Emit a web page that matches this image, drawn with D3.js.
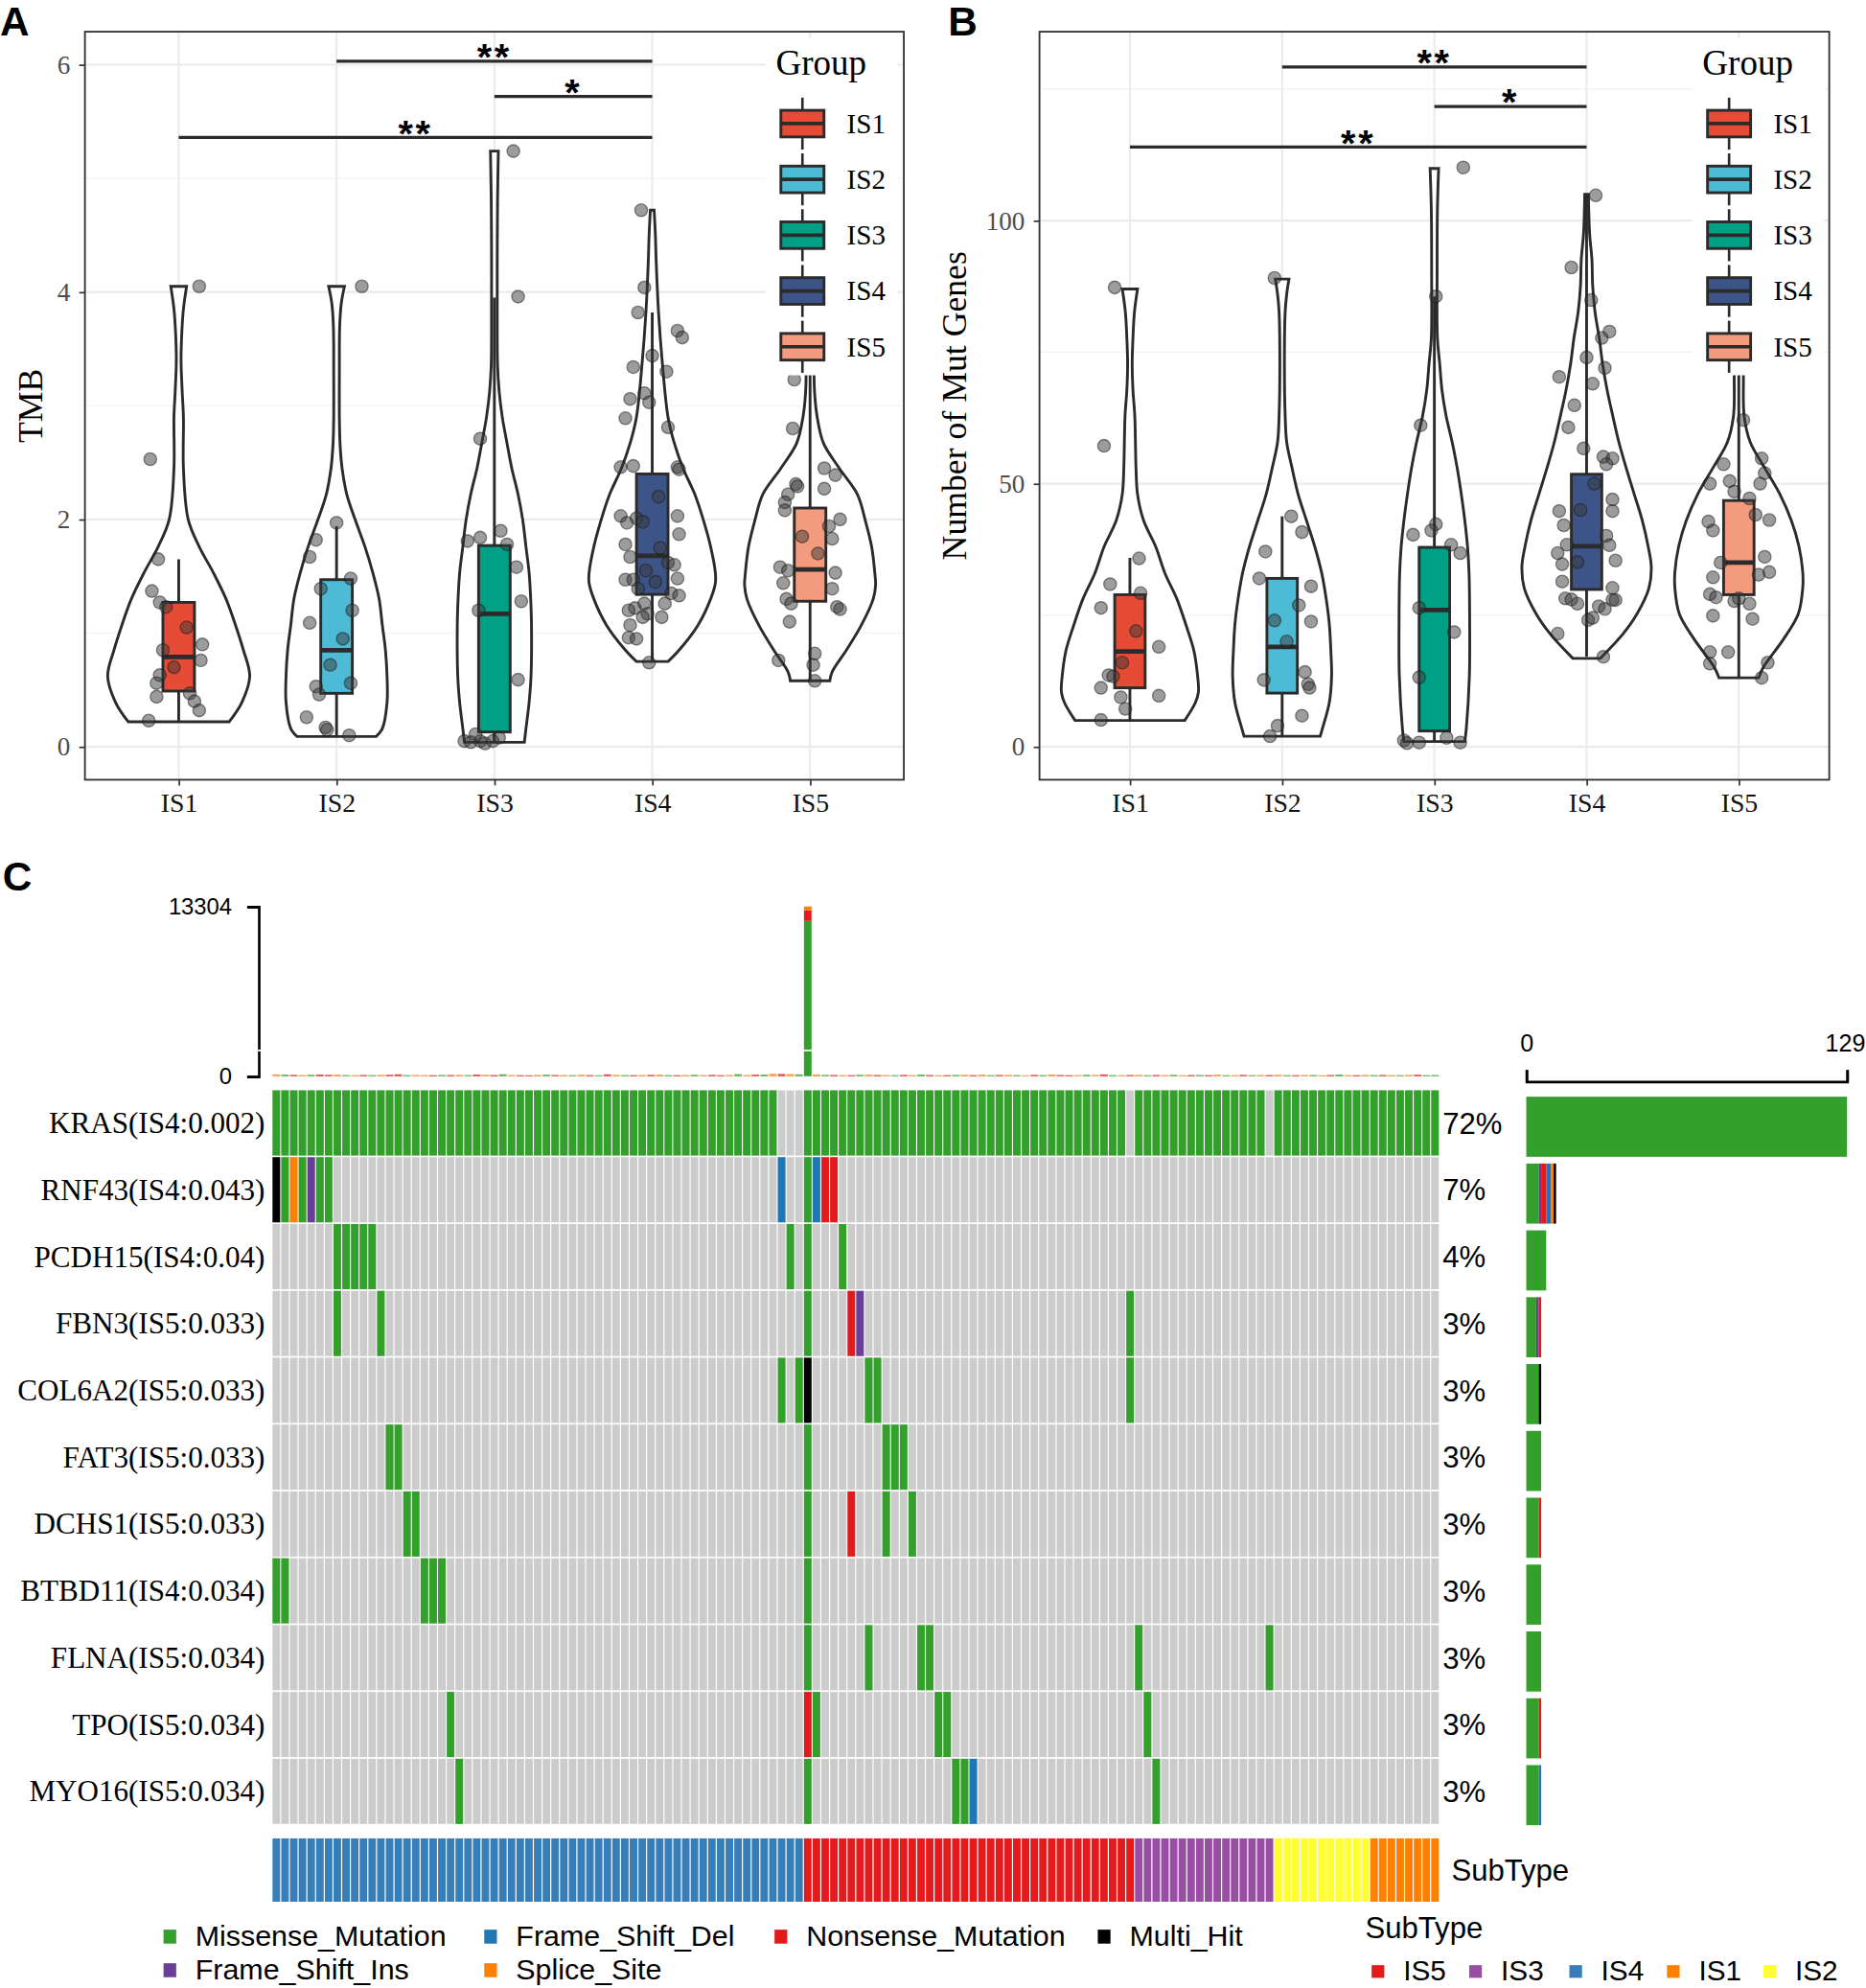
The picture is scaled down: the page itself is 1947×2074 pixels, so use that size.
<!DOCTYPE html>
<html>
<head>
<meta charset="utf-8">
<script src="https://cdn.jsdelivr.net/npm/d3@7"></script>
<style>
  html, body { margin: 0; padding: 0; background: #fff; }
  svg { display: block; }
</style>
</head>
<body>
<svg id="figure"></svg>
<script>
// ---------- panel A / B data ----------
const groups = ["IS1", "IS2", "IS3", "IS4", "IS5"];
const groupColors = ["#E64B35", "#4DBBD5", "#00A087", "#3C5488", "#F39B7F"];

// box stats: [lower whisker, q1, median, q3, upper whisker]
const tmbBoxes = [
  [0.22, 0.49, 0.79, 1.27, 1.65],
  [0.09, 0.47, 0.85, 1.47, 1.94],
  [0.04, 0.13, 1.17, 1.77, 3.95],
  [0.75, 1.34, 1.68, 2.40, 3.82],
  [0.58, 1.28, 1.56, 2.10, 3.30]
];
// violin outlines: [value, half width in category units]
const tmbViolins = [
  [[0.22,0.32],[0.39,0.40],[0.62,0.45],[0.85,0.41],[1.07,0.36],[1.30,0.30],[1.53,0.22],[1.76,0.13],[2.0,0.06],[2.45,0.03],[2.9,0.03],[3.13,0.022],[3.4,0.015],[3.65,0.02],[3.85,0.03],[4.05,0.05]],
  [[0.09,0.25],[0.16,0.29],[0.39,0.32],[0.62,0.32],[0.85,0.31],[1.07,0.29],[1.30,0.27],[1.53,0.23],[1.76,0.18],[1.99,0.12],[2.22,0.065],[2.45,0.035],[2.67,0.022],[2.9,0.018],[3.3,0.018],[3.7,0.02],[3.9,0.03],[4.05,0.05]],
  [[0.04,0.19],[0.16,0.20],[0.39,0.22],[0.62,0.232],[1.07,0.235],[1.30,0.23],[1.53,0.22],[1.76,0.20],[1.99,0.18],[2.22,0.15],[2.45,0.11],[2.67,0.08],[2.9,0.05],[3.13,0.03],[3.36,0.02],[3.8,0.018],[4.3,0.018],[4.8,0.02],[5.24,0.025]],
  [[0.75,0.10],[0.85,0.17],[1.07,0.29],[1.30,0.37],[1.44,0.40],[1.53,0.40],[1.76,0.37],[1.99,0.325],[2.22,0.27],[2.45,0.195],[2.67,0.14],[2.9,0.10],[3.36,0.065],[3.82,0.04],[4.27,0.025],[4.5,0.02],[4.72,0.012]],
  [[0.58,0.125],[0.66,0.14],[0.85,0.23],[1.07,0.325],[1.30,0.40],[1.42,0.415],[1.53,0.41],[1.76,0.39],[1.99,0.35],[2.22,0.30],[2.45,0.185],[2.67,0.085],[2.9,0.045],[3.13,0.028],[3.45,0.025]]
];
// jittered points: [offset in category units, value]
const tmbPoints = [
  [[0.13,4.05],[-0.18,2.53],[-0.13,1.65],[-0.17,1.37],[-0.12,1.27],[-0.08,1.23],[-0.10,0.85],[0.15,0.90],[0.14,0.76],[-0.12,0.63],[-0.14,0.56],[-0.14,0.44],[0.07,0.47],[0.10,0.40],[0.13,0.32],[-0.19,0.23],[0.05,1.05],[-0.03,0.70]],
  [[0.16,4.05],[0.0,1.97],[-0.13,1.82],[-0.17,1.67],[-0.10,1.39],[0.09,1.48],[0.10,1.20],[-0.17,1.09],[-0.13,0.53],[-0.11,0.46],[0.09,0.56],[-0.19,0.26],[-0.07,0.17],[-0.06,0.15],[0.08,0.10],[0.04,0.95],[-0.04,0.72]],
  [[0.12,5.24],[0.15,3.96],[-0.09,2.71],[-0.17,1.81],[-0.09,1.84],[0.04,1.90],[0.08,1.78],[0.14,1.58],[0.17,1.28],[-0.10,1.20],[0.15,0.59],[-0.19,0.05],[-0.09,0.05],[-0.06,0.03],[-0.01,0.05],[-0.12,0.11],[0.03,0.08],[-0.15,0.04]],
  [[-0.07,4.72],[-0.05,4.04],[-0.09,3.82],[0.16,3.66],[0.19,3.60],[0.0,3.44],[-0.12,3.34],[0.09,3.30],[-0.14,3.06],[-0.05,3.11],[-0.02,3.03],[-0.17,2.89],[0.10,2.81],[-0.20,2.46],[-0.12,2.47],[0.16,2.46],[0.17,2.44],[-0.20,2.03],[-0.10,2.01],[0.16,2.03],[-0.16,1.97],[0.17,1.87],[-0.17,1.78],[-0.14,1.67],[0.10,1.62],[0.14,1.60],[-0.17,1.47],[-0.12,1.47],[0.16,1.48],[-0.09,1.39],[0.12,1.35],[0.17,1.33],[-0.11,1.22],[-0.05,1.26],[0.08,1.26],[-0.15,1.20],[-0.03,1.17],[0.06,1.14],[-0.06,1.14],[-0.14,1.07],[-0.15,0.96],[-0.10,0.95],[-0.02,0.74],[-0.06,1.98],[0.05,1.75],[-0.04,1.55],[0.04,2.20],[0.02,1.45]],
  [[-0.10,3.23],[-0.11,2.80],[0.09,2.45],[0.16,2.39],[-0.09,2.31],[-0.08,2.29],[-0.14,2.22],[0.09,2.27],[-0.16,2.15],[-0.16,2.08],[0.19,2.00],[0.12,1.94],[0.14,1.83],[-0.19,1.58],[-0.14,1.55],[0.16,1.53],[-0.17,1.44],[0.14,1.39],[-0.15,1.30],[-0.12,1.26],[0.17,1.23],[0.19,1.21],[-0.13,1.10],[-0.20,0.76],[0.03,0.82],[0.02,0.72],[0.03,0.58],[0.05,1.70],[-0.05,1.85]]
];
const tmbSignif = [[2, 4, 6.03, "**"], [3, 4, 5.72, "*"], [1, 4, 5.36, "**"]];

const mutBoxes = [
  [5.0, 11.2, 18.1, 28.9, 35.9],
  [2.0, 10.2, 19.0, 32.0, 43.8],
  [1.0, 3.0, 26.0, 37.9, 85.6],
  [17.1, 29.9, 38.1, 51.8, 104.9],
  [13.1, 28.9, 35.0, 46.8, 72.0]
];
const mutViolins = [
  [[5,0.36],[8.4,0.43],[10.4,0.45],[13.4,0.445],[18.3,0.42],[23,0.37],[28,0.31],[33,0.23],[38,0.17],[43,0.09],[48,0.05],[53,0.04],[62.9,0.032],[67.8,0.02],[72.8,0.015],[77.7,0.02],[82.7,0.03],[87,0.05]],
  [[2,0.25],[3.5,0.265],[8.4,0.31],[13.4,0.325],[18.3,0.32],[23.3,0.31],[28,0.29],[33,0.26],[38,0.215],[43,0.16],[48,0.105],[53,0.065],[57.9,0.03],[62.9,0.02],[72.8,0.015],[82.7,0.02],[86,0.03],[88.9,0.045]],
  [[1,0.2],[3.5,0.21],[13.4,0.23],[23.3,0.232],[33,0.228],[38,0.218],[43,0.20],[48,0.177],[53,0.15],[57.9,0.117],[62.9,0.077],[67.8,0.05],[72.8,0.035],[77.7,0.02],[90,0.018],[102,0.02],[109.9,0.028]],
  [[16.8,0.09],[21.3,0.235],[25.2,0.33],[30.2,0.41],[34.2,0.425],[38,0.405],[43,0.366],[48,0.313],[53,0.26],[57.9,0.212],[62.9,0.172],[67.8,0.135],[72.8,0.105],[77.7,0.083],[82.7,0.055],[87.6,0.04],[92.6,0.035],[97.5,0.02],[105,0.012]],
  [[13.1,0.13],[15.3,0.165],[20.3,0.29],[25.2,0.39],[30.2,0.42],[33.2,0.42],[38.1,0.395],[43,0.345],[48,0.27],[53,0.17],[57.9,0.075],[62.9,0.035],[70.8,0.03],[76,0.025]]
];
const mutPoints = [
  [[-0.10,87.3],[-0.17,57.2],[0.06,35.8],[-0.13,30.9],[0.07,29.2],[-0.19,26.4],[0.19,19.0],[-0.14,13.6],[-0.11,13.4],[-0.19,11.2],[-0.06,9.4],[-0.03,7.2],[0.19,9.7],[-0.19,5.1],[0.04,22.0],[-0.05,16.0]],
  [[-0.05,89.1],[0.06,43.8],[0.13,40.8],[-0.11,37.1],[-0.15,32.0],[0.19,30.5],[0.11,26.9],[0.19,23.8],[-0.12,12.7],[0.15,14.2],[0.17,11.9],[0.18,11.2],[0.13,5.9],[-0.03,4.0],[-0.08,2.0],[0.03,20.0],[-0.05,24.0]],
  [[0.19,110.1],[0.01,85.6],[-0.09,61.1],[0.01,42.3],[-0.14,40.3],[-0.02,41.1],[0.11,38.4],[0.17,36.8],[-0.10,26.4],[0.13,21.8],[-0.10,13.2],[-0.20,1.2],[-0.18,0.7],[-0.10,0.8],[0.08,1.7],[0.17,0.8]],
  [[0.06,104.8],[-0.10,91.1],[0.03,84.9],[0.15,78.9],[0.10,77.7],[0.0,74.0],[0.12,72.0],[-0.18,70.3],[0.04,69.0],[-0.08,64.9],[-0.12,60.7],[-0.02,56.7],[0.11,55.1],[0.17,54.8],[0.13,53.7],[0.17,47.0],[-0.18,44.8],[-0.15,42.1],[0.17,44.8],[0.13,40.1],[0.15,38.3],[-0.19,36.8],[-0.13,38.4],[-0.16,34.7],[0.19,35.4],[-0.06,35.1],[-0.16,31.4],[0.17,30.2],[-0.14,28.2],[-0.10,28.0],[0.17,27.9],[0.19,27.9],[-0.06,27.2],[0.08,26.7],[0.12,26.2],[0.01,24.1],[0.04,24.5],[-0.19,21.5],[0.11,17.1],[-0.04,45.0],[0.05,50.0]],
  [[0.03,62.1],[-0.10,53.7],[0.15,54.8],[0.17,52.0],[-0.19,50.0],[-0.06,50.5],[0.14,50.0],[-0.03,48.5],[0.07,47.2],[0.11,44.1],[0.20,43.1],[-0.20,42.8],[-0.17,41.1],[0.17,36.1],[-0.12,35.0],[0.20,33.2],[0.13,32.7],[-0.17,32.2],[-0.19,29.0],[-0.15,28.4],[-0.03,27.7],[0.07,27.2],[0.0,28.2],[-0.17,24.9],[0.09,24.3],[-0.19,18.0],[-0.07,18.0],[-0.19,15.8],[0.19,16.0],[0.15,13.1]]
];
const mutSignif = [[2, 4, 129.2, "**"], [3, 4, 121.7, "*"], [1, 4, 114.0, "**"]];

// ---------- panel C data ----------
const vcCodes = ["M", "D", "N", "H", "I", "S"];
const vcNames = ["Missense_Mutation", "Frame_Shift_Del", "Nonsense_Mutation", "Multi_Hit", "Frame_Shift_Ins", "Splice_Site"];
const vcColors = ["#33A02C", "#1F78B4", "#E31A1C", "#000000", "#6A3D9A", "#FF7F00"];
const stackOrder = ["M", "I", "N", "D", "S", "H"];

const nSamples = 134;
const genes = ["KRAS", "RNF43", "PCDH15", "FBN3", "COL6A2", "FAT3", "DCHS1", "BTBD11", "FLNA", "TPO", "MYO16"];
const geneLabels = ["KRAS(IS4:0.002)", "RNF43(IS4:0.043)", "PCDH15(IS4:0.04)", "FBN3(IS5:0.033)", "COL6A2(IS5:0.033)",
  "FAT3(IS5:0.033)", "DCHS1(IS5:0.033)", "BTBD11(IS4:0.034)", "FLNA(IS5:0.034)", "TPO(IS5:0.034)", "MYO16(IS5:0.034)"];
const genePct = ["72%", "7%", "4%", "3%", "3%", "3%", "3%", "3%", "3%", "3%", "3%"];

// KRAS is mutated (missense) in every shown sample except these
const krasWildType = [58, 59, 60, 98, 114];
const otherMutations = [
  [[0,"H"],[1,"M"],[2,"S"],[3,"M"],[4,"I"],[5,"M"],[6,"M"],[58,"D"],[61,"M"],[62,"D"],[63,"N"],[64,"N"]],
  [[7,"M"],[8,"M"],[9,"M"],[10,"M"],[11,"M"],[59,"M"],[61,"M"],[65,"M"]],
  [[7,"M"],[12,"M"],[61,"M"],[66,"N"],[67,"I"],[98,"M"]],
  [[58,"M"],[60,"M"],[61,"H"],[68,"M"],[69,"M"],[98,"M"]],
  [[13,"M"],[14,"M"],[61,"M"],[70,"M"],[71,"M"],[72,"M"]],
  [[15,"M"],[16,"M"],[61,"M"],[66,"N"],[70,"M"],[73,"M"]],
  [[0,"M"],[1,"M"],[17,"M"],[18,"M"],[19,"M"],[61,"M"]],
  [[61,"M"],[68,"M"],[74,"M"],[75,"M"],[99,"M"],[114,"M"]],
  [[20,"M"],[61,"N"],[62,"M"],[76,"M"],[77,"M"],[100,"M"]],
  [[21,"M"],[61,"M"],[78,"M"],[79,"M"],[80,"D"],[101,"M"]]
];

// mutation burden per sample (top bar)
const sampleTMB = [
  160,140,120,110,130,150,125,140,100,95,
  110,100,120,135,170,105,115,100,95,110,
  105,125,100,150,120,110,175,100,95,90,
  120,140,105,110,95,130,100,90,165,120,
  100,95,110,120,140,100,95,110,130,100,
  120,95,105,180,110,140,150,210,200,190,
  170,13304,160,120,110,95,100,130,140,110,
  105,95,120,100,150,110,95,100,115,130,
  100,140,95,110,125,100,90,120,105,150,
  110,95,100,130,115,160,100,95,105,120,
  95,110,100,125,90,105,115,100,140,95,
  100,120,95,110,105,130,100,95,115,105,
  90,110,150,100,95,120,105,110,100,95,
  120,140,100,110
];
const sampleTopClass = "SMNSMNNSMSNMSNNMSSNMNSMNSNMSNNSMNSMSNMNSMNSNSMNSMSNNSMSNMSNSMNSMNSNMSNSMNSMNSNMSNSMNSMSNMSNNSMSNMSNSMNSMSNMNSMSNMSNSMNSMSNMSNSMNSMSNM";
const spikeSample = 61;
const spikeParts = [["D", 24], ["M", 12150], ["N", 830], ["S", 300]];

const subtypeRuns = [["IS4", 61], ["IS5", 38], ["IS3", 16], ["IS2", 11], ["IS1", 8]];
const subtypeLegend = ["IS5", "IS3", "IS4", "IS1", "IS2"];
const subtypeColors = { IS5: "#E41A1C", IS3: "#984EA3", IS4: "#377EB8", IS1: "#FF7F00", IS2: "#FFFF33" };

// ---------- drawing ----------
const W = 1472, H = 1568;
const SERIF = "'Liberation Serif', 'Times New Roman', serif";
const SANS = "'Liberation Sans', Arial, Helvetica, sans-serif";
const INK = "#2b2b2b";
const svg = d3.select("#figure")
  .attr("width", 1947).attr("height", 2074)
  .attr("viewBox", `0 0 ${W} ${H}`);
svg.append("rect").attr("width", W).attr("height", H).attr("fill", "#fff");

function panelLabel(txt, x, y) {
  svg.append("text").attr("x", x).attr("y", y).text(txt)
    .attr("font-family", SANS).attr("font-weight", "bold").attr("font-size", 32).attr("fill", "#000");
}

function drawViolinPanel(p) {
  const x = d3.scaleLinear().domain([0.406, 5.594]).range([p.left, p.right]);
  const y = d3.scaleLinear().domain(p.yDomain).range(p.yRange);
  const unit = x(2) - x(1);
  const g = svg.append("g");

  svg.append("clipPath").attr("id", "clip-" + p.id)
    .append("rect").attr("x", p.left).attr("y", p.top)
    .attr("width", p.right - p.left).attr("height", p.bottom - p.top);
  const plot = g.append("g").attr("clip-path", "url(#clip-" + p.id + ")");

  // grid
  plot.selectAll("line.minor").data(p.minorTicks).join("line").attr("class", "minor")
    .attr("x1", p.left).attr("x2", p.right).attr("y1", d => y(d)).attr("y2", d => y(d))
    .attr("stroke", "#F2F2F2").attr("stroke-width", 0.9);
  plot.selectAll("line.major").data(p.majorTicks).join("line").attr("class", "major")
    .attr("x1", p.left).attr("x2", p.right).attr("y1", d => y(d)).attr("y2", d => y(d))
    .attr("stroke", "#EBEBEB").attr("stroke-width", 1.6);
  plot.selectAll("line.vmajor").data(groups).join("line").attr("class", "vmajor")
    .attr("x1", (d, i) => x(i + 1)).attr("x2", (d, i) => x(i + 1)).attr("y1", p.top).attr("y2", p.bottom)
    .attr("stroke", "#EBEBEB").attr("stroke-width", 1.6);

  // violins
  plot.selectAll("path.violin").data(p.violins).join("path").attr("class", "violin")
    .attr("d", (d, i) => d3.area().curve(d3.curveCatmullRom)
      .y(v => y(v[0])).x0(v => x(i + 1) - v[1] * unit).x1(v => x(i + 1) + v[1] * unit)(d))
    .attr("fill", "#fff").attr("stroke", INK).attr("stroke-width", 2.2);

  // boxplots
  const bw = 0.2 * unit;
  const box = plot.selectAll("g.box").data(p.boxes).join("g").attr("class", "box");
  box.append("line").attr("x1", (d, i) => x(i + 1)).attr("x2", (d, i) => x(i + 1))
    .attr("y1", d => y(d[0])).attr("y2", d => y(d[1])).attr("stroke", INK).attr("stroke-width", 2.2);
  box.append("line").attr("x1", (d, i) => x(i + 1)).attr("x2", (d, i) => x(i + 1))
    .attr("y1", d => y(d[3])).attr("y2", d => y(d[4])).attr("stroke", INK).attr("stroke-width", 2.2);
  box.append("rect").attr("x", (d, i) => x(i + 1) - bw / 2).attr("width", bw)
    .attr("y", d => y(d[3])).attr("height", d => y(d[1]) - y(d[3]))
    .attr("fill", (d, i) => groupColors[i]).attr("stroke", INK).attr("stroke-width", 2.2);
  box.append("line").attr("x1", (d, i) => x(i + 1) - bw / 2).attr("x2", (d, i) => x(i + 1) + bw / 2)
    .attr("y1", d => y(d[2])).attr("y2", d => y(d[2])).attr("stroke", INK).attr("stroke-width", 3.6);

  // jittered points
  p.points.forEach((pts, gi) => {
    plot.selectAll(null).data(pts).join("circle")
      .attr("cx", d => x(gi + 1) + d[0] * unit).attr("cy", d => y(d[1])).attr("r", 5)
      .attr("fill", "#3a3a3a").attr("fill-opacity", 0.5)
      .attr("stroke", "#1a1a1a").attr("stroke-opacity", 0.5).attr("stroke-width", 1);
  });

  // significance brackets
  p.signif.forEach(s => {
    g.append("line").attr("x1", x(s[0])).attr("x2", x(s[1])).attr("y1", y(s[2])).attr("y2", y(s[2]))
      .attr("stroke", INK).attr("stroke-width", 2.4);
    g.append("text").attr("x", (x(s[0]) + x(s[1])) / 2).attr("y", y(s[2]) + 7)
      .attr("text-anchor", "middle").attr("font-family", SANS).attr("font-weight", "bold")
      .attr("font-size", 30).attr("letter-spacing", 2).attr("fill", "#000").text(s[3]);
  });

  // legend (white key background covers the panel)
  const lg = g.append("g");
  lg.append("rect").attr("x", p.legendX - 12).attr("y", 30).attr("width", 104).attr("height", 266).attr("fill", "#fff");
  lg.append("text").attr("x", p.legendX - 4).attr("y", 59).text("Group")
    .attr("font-family", SERIF).attr("font-size", 28).attr("fill", "#000");
  const key = lg.selectAll("g.key").data(groups).join("g").attr("class", "key")
    .attr("transform", (d, i) => `translate(${p.legendX},${97.5 + 44 * i})`);
  key.append("line").attr("x1", 17).attr("x2", 17).attr("y1", -20.5).attr("y2", 20.5)
    .attr("stroke", INK).attr("stroke-width", 2);
  key.append("rect").attr("x", 0).attr("y", -10.5).attr("width", 34).attr("height", 21)
    .attr("fill", (d, i) => groupColors[i]).attr("stroke", INK).attr("stroke-width", 2.2);
  key.append("line").attr("x1", 0).attr("x2", 34).attr("y1", 0).attr("y2", 0)
    .attr("stroke", INK).attr("stroke-width", 2.8);
  key.append("text").attr("x", 52).attr("y", 7.5).text(d => d)
    .attr("font-family", SERIF).attr("font-size", 22).attr("fill", "#000");

  // border
  g.append("rect").attr("x", p.left).attr("y", p.top).attr("width", p.right - p.left).attr("height", p.bottom - p.top)
    .attr("fill", "none").attr("stroke", "#333").attr("stroke-width", 1.4);

  // axes
  const ya = g.append("g").attr("transform", `translate(${p.left},0)`)
    .call(d3.axisLeft(y).tickValues(p.majorTicks).tickSize(4.5).tickPadding(7).tickFormat(d3.format("d")));
  ya.select(".domain").remove();
  ya.selectAll(".tick line").attr("stroke", "#333").attr("stroke-width", 1.3);
  ya.selectAll(".tick text").attr("font-family", SERIF).attr("font-size", 20.5).attr("fill", "#4D4D4D");

  const xa = g.append("g").attr("transform", `translate(0,${p.bottom})`)
    .call(d3.axisBottom(x).tickValues([1, 2, 3, 4, 5]).tickSize(4.5).tickPadding(6).tickFormat(d => groups[d - 1]));
  xa.select(".domain").remove();
  xa.selectAll(".tick line").attr("stroke", "#333").attr("stroke-width", 1.3);
  xa.selectAll(".tick text").attr("font-family", SERIF).attr("font-size", 21).attr("fill", "#111");

  g.append("text").attr("transform", `translate(${p.titleX},${(p.top + p.bottom) / 2}) rotate(-90)`)
    .attr("text-anchor", "middle").attr("font-family", SERIF).attr("font-size", 27).attr("fill", "#000")
    .text(p.title);
}

drawViolinPanel({
  id: "a", left: 67, right: 713, top: 25, bottom: 615,
  yDomain: [0, 6], yRange: [589, 51], majorTicks: [0, 2, 4, 6], minorTicks: [1, 3, 5],
  boxes: tmbBoxes, violins: tmbViolins, points: tmbPoints, signif: tmbSignif,
  legendX: 616, title: "TMB", titleX: 33
});
drawViolinPanel({
  id: "b", left: 820, right: 1443, top: 25, bottom: 615,
  yDomain: [0, 100], yRange: [589, 174], majorTicks: [0, 50, 100], minorTicks: [25, 75, 125],
  boxes: mutBoxes, violins: mutViolins, points: mutPoints, signif: mutSignif,
  legendX: 1347, title: "Number of Mut Genes", titleX: 762
});

panelLabel("A", 0, 28);
panelLabel("B", 748, 28);
panelLabel("C", 2, 702);

// ---------- panel C : oncoplot ----------
const vcColor = c => vcColors[vcCodes.indexOf(c)];
const col = d3.scaleBand().domain(d3.range(nSamples)).range([215, 1135]).paddingInner(0.13);
const row = d3.scaleBand().domain(genes).range([860, 1438.6]).paddingInner(0.025);

const subtypeOf = subtypeRuns.flatMap(r => d3.range(r[1]).map(() => r[0]));
const geneCells = genes.map((gname, gi) => gi === 0
  ? d3.range(nSamples).filter(s => !krasWildType.includes(s)).map(s => [s, "M"])
  : otherMutations[gi - 1]);

const onco = svg.append("g");
// background grey cells
genes.forEach(gname => {
  onco.selectAll(null).data(d3.range(nSamples)).join("rect")
    .attr("x", s => col(s)).attr("width", col.bandwidth())
    .attr("y", row(gname)).attr("height", row.bandwidth())
    .attr("fill", "#CCCCCC");
});
// mutated cells
geneCells.forEach((cells, gi) => {
  onco.selectAll(null).data(cells).join("rect")
    .attr("x", d => col(d[0])).attr("width", col.bandwidth())
    .attr("y", row(genes[gi])).attr("height", row.bandwidth())
    .attr("fill", d => vcColor(d[1]));
});

// gene labels and percentages
onco.selectAll("text.gene").data(geneLabels).join("text").attr("class", "gene")
  .attr("x", 209).attr("y", (d, i) => row(genes[i]) + row.bandwidth() / 2).attr("dy", "0.34em")
  .attr("text-anchor", "end").attr("font-family", SERIF).attr("font-size", 23.5).attr("fill", "#000").text(d => d);
onco.selectAll("text.pct").data(genePct).join("text").attr("class", "pct")
  .attr("x", 1138).attr("y", (d, i) => row(genes[i]) + row.bandwidth() / 2).attr("dy", "0.36em")
  .attr("font-family", SANS).attr("font-size", 23.5).attr("fill", "#000").text(d => d);

// top bar: mutation burden per sample
const yTop = d3.scaleLinear().domain([0, 13304]).range([849, 715]);
const smallSamples = d3.range(nSamples).filter(s => s !== spikeSample);
onco.selectAll(null).data(smallSamples).join("rect")
  .attr("x", s => col(s)).attr("width", col.bandwidth())
  .attr("y", s => yTop(sampleTMB[s])).attr("height", s => yTop(0) - yTop(sampleTMB[s]))
  .attr("fill", s => vcColor(sampleTopClass[s] || "M")).attr("opacity", 0.7);
let acc = 0;
const spikeStack = spikeParts.map(pt => { const r = [pt[0], acc, acc + pt[1]]; acc += pt[1]; return r; });
onco.selectAll(null).data(spikeStack).join("rect")
  .attr("x", col(spikeSample)).attr("width", col.bandwidth())
  .attr("y", d => yTop(d[2])).attr("height", d => yTop(d[1]) - yTop(d[2]))
  .attr("fill", d => vcColor(d[0]));
const topAxis = onco.append("g").attr("transform", "translate(204,0)")
  .call(d3.axisLeft(yTop).tickValues([0, 13304]).tickSize(9).tickPadding(12).tickFormat(d3.format("d")));
topAxis.selectAll("path, line").attr("stroke", "#000").attr("stroke-width", 2);
topAxis.selectAll("text").attr("font-family", SANS).attr("font-size", 18).attr("fill", "#000");
// thin white break across the top plot (as in the source image)
onco.append("line").attr("x1", 190).attr("x2", 650).attr("y1", 828.5).attr("y2", 828.5)
  .attr("stroke", "#fff").attr("stroke-width", 1.4);

// right bar: mutated samples per gene by class
const xRight = d3.scaleLinear().domain([0, 129]).range([1204, 1457]);
geneCells.forEach((cells, gi) => {
  const counts = d3.rollup(cells, v => v.length, d => d[1]);
  let c0 = 0;
  const segs = stackOrder.filter(k => counts.get(k)).map(k => { const s = [k, c0, c0 + counts.get(k)]; c0 += counts.get(k); return s; });
  onco.selectAll(null).data(segs).join("rect")
    .attr("x", d => xRight(d[1])).attr("width", d => xRight(d[2]) - xRight(d[1]))
    .attr("y", row(genes[gi]) + 5).attr("height", row.bandwidth() - 4)
    .attr("fill", d => vcColor(d[0]));
});
const rightAxis = onco.append("g").attr("transform", "translate(0,853)")
  .call(d3.axisTop(xRight).tickValues([0, 129]).tickSize(9).tickPadding(15).tickFormat(d3.format("d")));
rightAxis.selectAll("path, line").attr("stroke", "#000").attr("stroke-width", 2);
rightAxis.selectAll("text").attr("font-family", SANS).attr("font-size", 19).attr("fill", "#000")
  .attr("text-anchor", d => d === 0 ? "middle" : "end")
  .attr("x", d => d === 0 ? 0 : 14);

// subtype annotation bar
onco.selectAll(null).data(d3.range(nSamples)).join("rect")
  .attr("x", s => col(s)).attr("width", col.bandwidth())
  .attr("y", 1450).attr("height", 50)
  .attr("fill", s => subtypeColors[subtypeOf[s]]);
onco.append("text").attr("x", 1145).attr("y", 1475).attr("dy", "0.36em")
  .attr("font-family", SANS).attr("font-size", 23.5).attr("fill", "#000").text("SubType");

// variant classification legend
const vcLegendPos = [["M", 129, 0], ["D", 382, 0], ["N", 611, 0], ["H", 866, 0], ["I", 129, 1], ["S", 382, 1]];
const vcl = onco.selectAll("g.vcl").data(vcLegendPos).join("g").attr("class", "vcl")
  .attr("transform", d => `translate(${d[1]},${1522 + d[2] * 26.5})`);
vcl.append("rect").attr("width", 10).attr("height", 11).attr("fill", d => vcColor(d[0]));
vcl.append("text").attr("x", 25).attr("y", 13).attr("font-family", SANS).attr("font-size", 23).attr("fill", "#000")
  .text(d => vcNames[vcCodes.indexOf(d[0])]);

// subtype legend
onco.append("text").attr("x", 1077).attr("y", 1529).attr("font-family", SANS).attr("font-size", 23.5)
  .attr("fill", "#000").text("SubType");
const stPos = [1082, 1159, 1238, 1315, 1391];
const stl = onco.selectAll("g.stl").data(subtypeLegend).join("g").attr("class", "stl")
  .attr("transform", (d, i) => `translate(${stPos[i]},1550)`);
stl.append("rect").attr("width", 10).attr("height", 10).attr("fill", d => subtypeColors[d]);
stl.append("text").attr("x", 25).attr("y", 12).attr("font-family", SANS).attr("font-size", 22.5)
  .attr("fill", "#000").text(d => d);
</script>
</body>
</html>
